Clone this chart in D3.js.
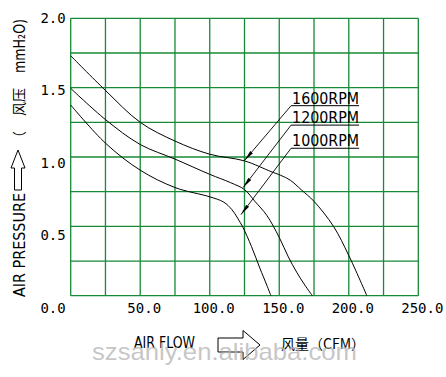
<!DOCTYPE html>
<html>
<head>
<meta charset="utf-8">
<script src="https://cdn.jsdelivr.net/npm/d3@7"></script>
<style>
  body { margin: 0; background: #fff; }
  .grid { stroke: #168a36; stroke-width: 1.3; fill: none; }
  .curve { stroke: #000; stroke-width: 1; fill: none; }
  .tick { font-family: "DejaVu Sans Mono", monospace; font-size: 14px; fill: #000; }
  .rpm { font-family: "DejaVu Sans", sans-serif; font-size: 16px; fill: #000; }
  .ttl { font-family: "DejaVu Sans", sans-serif; font-size: 15px; fill: #000; }
  .cjk { font-family: "Noto Sans CJK SC", sans-serif; font-size: 14px; fill: #000; }
</style>
</head>
<body>
<script>
// chart values
var xTicks = [0, 50, 100, 150, 200, 250];
var yTicks = [0.5, 1.0, 1.5, 2.0];
var speeds = ["1600RPM", "1200RPM", "1000RPM"];

var flow1600 = [0, 25, 50, 75, 100, 125, 144, 151, 158, 166, 175, 189, 200, 213];
var pres1600 = [1.73, 1.48, 1.25, 1.115, 1.02, 0.972, 0.895, 0.868, 0.832, 0.762, 0.68, 0.5, 0.29, 0];

var flow1200 = [0, 25, 50, 75, 100, 115, 125, 132.5, 141, 150, 156.5, 162.5, 168.5, 173.8];
var pres1200 = [1.495, 1.27, 1.09, 0.985, 0.875, 0.815, 0.765, 0.68, 0.58, 0.42, 0.28, 0.17, 0.075, 0];

var flow1000 = [0, 25, 50, 75, 100, 110, 116, 120, 124, 130, 136, 141, 144];
var pres1000 = [1.375, 1.1, 0.905, 0.78, 0.713, 0.675, 0.62, 0.56, 0.49, 0.355, 0.2, 0.077, 0];

// where each leader touches its curve, and where its label sits
var pointFlow = [125, 124, 122.5];
var pointPres = [0.975, 0.78, 0.585];
var labelFlow = 158.5;
var labelPres = [1.37, 1.23, 1.063];

var width = 446, height = 377;

var svg = d3.select("body").append("svg")
    .attr("width", width)
    .attr("height", height);

var x = d3.scaleLinear().domain([0, 250]).range([70.7, 418.3]);
var y = d3.scaleLinear().domain([0, 2]).range([295.7, 18.3]);
// the tick numbers drift a little below their grid lines
var yLab = d3.scaleLinear().domain([0, 2]).range([313, 22.7]);

//grid: 10 columns, 8 rows
svg.append("g").selectAll("line.v")
    .data(d3.range(0, 251, 25))
    .enter().append("line")
    .attr("class", "grid")
    .attr("x1", function(d){ return x(d); })
    .attr("x2", function(d){ return x(d); })
    .attr("y1", y(0)).attr("y2", y(2));

svg.append("g").selectAll("line.h")
    .data(d3.range(0, 2.01, 0.25))
    .enter().append("line")
    .attr("class", "grid")
    .attr("y1", function(d){ return y(d); })
    .attr("y2", function(d){ return y(d); })
    .attr("x1", x(0)).attr("x2", x(250));

//tick labels
svg.append("g").selectAll("text")
    .data(xTicks)
    .enter().append("text")
    .attr("class", "tick")
    .attr("x", function(d){ return d === 0 ? x(d) - 5 : x(d) + 4; })
    .attr("y", yLab(0))
    .attr("text-anchor", function(d){ return d === 0 ? "end" : "middle"; })
    .text(function(d){ return d.toFixed(1); });

svg.append("g").selectAll("text")
    .data(yTicks)
    .enter().append("text")
    .attr("class", "tick")
    .attr("x", x(0) - 5)
    .attr("y", function(d){ return yLab(d); })
    .attr("text-anchor", "end")
    .text(function(d){ return d.toFixed(1); });

//curves
var line = d3.line()
    .x(function(d){ return x(d[0]); })
    .y(function(d){ return y(d[1]); })
    .curve(d3.curveCatmullRom.alpha(0.5));

var series = [
    d3.zip(flow1600, pres1600),
    d3.zip(flow1200, pres1200),
    d3.zip(flow1000, pres1000)
];

svg.selectAll("path.curve")
    .data(series)
    .enter().append("path")
    .attr("class", "curve")
    .attr("d", line);

//arrowhead for the leaders
svg.append("defs").append("marker")
    .attr("id", "head")
    .attr("markerUnits", "userSpaceOnUse")
    .attr("markerWidth", 12).attr("markerHeight", 6)
    .attr("refX", 11).attr("refY", 3)
    .attr("orient", "auto")
    .append("path")
    .attr("d", "M0,1.2 L11,3 L0,4.8 Z")
    .attr("fill", "#000");

var callouts = svg.append("g").selectAll("g")
    .data(speeds)
    .enter().append("g");

callouts.append("line")
    .attr("x1", x(labelFlow))
    .attr("y1", function(d, i){ return y(labelPres[i]); })
    .attr("x2", function(d, i){ return x(pointFlow[i]); })
    .attr("y2", function(d, i){ return y(pointPres[i]); })
    .attr("stroke", "#000").attr("stroke-width", 0.9)
    .attr("marker-end", "url(#head)");

callouts.append("line")
    .attr("x1", x(labelFlow))
    .attr("x2", x(labelFlow) + 68)
    .attr("y1", function(d, i){ return y(labelPres[i]); })
    .attr("y2", function(d, i){ return y(labelPres[i]); })
    .attr("stroke", "#000").attr("stroke-width", 1);

callouts.append("text")
    .attr("class", "rpm")
    .attr("x", x(labelFlow) + 1)
    .attr("y", function(d, i){ return y(labelPres[i]) - 1.8; })
    .attr("textLength", 67)
    .attr("lengthAdjust", "spacingAndGlyphs")
    .text(function(d){ return d; });

//y title, reads bottom to top
var yt = svg.append("g").attr("transform", "translate(25,297) rotate(-90)");
yt.append("text").attr("class", "ttl")
    .attr("x", 0).attr("y", 0)
    .attr("textLength", 104).attr("lengthAdjust", "spacingAndGlyphs")
    .text("AIR PRESSURE");
yt.append("path")
    .attr("d", "M107,-3.5 L129,-3.5 L129,0 L147,-7 L129,-14 L129,-10.5 L107,-10.5 Z")
    .attr("fill", "none").attr("stroke", "#000").attr("stroke-width", 1);
yt.append("text").attr("class", "cjk").attr("x", 152).attr("y", -1).text("（");
yt.append("text").attr("class", "cjk").attr("x", 181).attr("y", -1).text("风压");
yt.append("text").attr("class", "ttl").attr("x", 224).attr("y", 0)
    .attr("textLength", 54).attr("lengthAdjust", "spacingAndGlyphs")
    .text("mmH₂O)");

//x title
svg.append("text").attr("class", "ttl")
    .attr("x", 134).attr("y", 348)
    .attr("textLength", 61).attr("lengthAdjust", "spacingAndGlyphs")
    .text("AIR FLOW");
svg.append("path")
    .attr("d", "M218,338 L243,338 L243,330.5 L260,345 L243,359.5 L243,352 L218,352 Z")
    .attr("fill", "none").attr("stroke", "#000").attr("stroke-width", 1);
svg.append("text").attr("class", "cjk")
    .attr("x", 281).attr("y", 349)
    .text("风量（CFM）");

//watermark
svg.append("text")
    .attr("x", 92).attr("y", 360)
    .attr("font-family", "Liberation Sans, Arial, sans-serif")
    .attr("font-size", 24)
    .attr("textLength", 265).attr("lengthAdjust", "spacingAndGlyphs")
    .attr("fill", "#b4b4b4").attr("fill-opacity", 0.75)
    .text("szsanly.en.alibaba.com");
</script>
</body>
</html>
